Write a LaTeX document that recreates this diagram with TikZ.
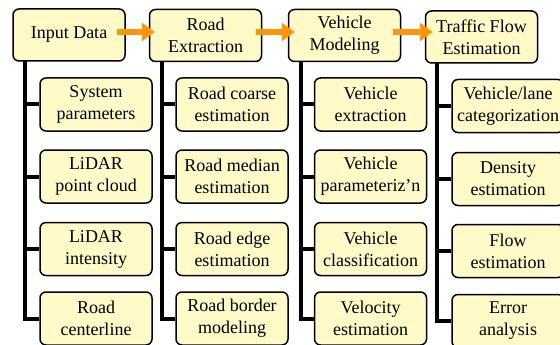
\documentclass[tikz,border=0pt]{standalone}
\usepackage{fontspec}
\setmainfont{Liberation Serif}
\usetikzlibrary{arrows.meta}
\definecolor{boxfill}{RGB}{255,250,200}
\definecolor{flowor}{RGB}{255,150,10}
\begin{document}
\begin{tikzpicture}[x=1pt,y=-1pt,
  stagebox/.style={draw=black, line width=1.5pt, rounded corners=6pt, fill=boxfill,
    minimum width=112pt, minimum height=52pt, align=center, inner sep=0pt,
    font=\fontsize{18}{22}\selectfont},
  taskbox/.style={stagebox, minimum height=53pt},
  trunk/.style={line width=4pt},
  flow/.style={draw=flowor, line width=6pt, -{Triangle[length=13pt,width=18pt]}}]
\useasboundingbox (0,0) rectangle (560,345);
\begin{scope}
\clip (0,0) rectangle (560,345);
% main stages
\node[stagebox] (in) at (69,35) {Input Data};
\node[stagebox] (re) at (205.5,35.5) {Road\\Extraction};
\node[stagebox] (vm) at (344.5,35.5) {Vehicle\\Modeling};
\node[stagebox] (tf) at (481.5,37) {Traffic Flow\\Estimation};
% trunk anchors
\coordinate (t1) at (25,61);
\coordinate (t2) at (162,62);
\coordinate (t3) at (301,62);
\coordinate (t4) at (437,63);
% sub tasks, column 1
\node[taskbox] (a1) at (96,104.5) {System\\parameters};
\node[taskbox] (a2) at (96,176.5) {LiDAR\\point cloud};
\node[taskbox] (a3) at (96,249) {LiDAR\\intensity};
\node[taskbox] (a4) at (96,318.5) {Road\\centerline};
% column 2
\node[taskbox] (b1) at (232,104.5) {Road coarse\\estimation};
\node[taskbox] (b2) at (232,176.5) {Road median\\estimation};
\node[taskbox] (b3) at (232,249) {Road edge\\estimation};
\node[taskbox] (b4) at (232,318.5) {Road border\\modeling};
% column 3
\node[taskbox] (c1) at (370.5,104.5) {Vehicle\\extraction};
\node[taskbox] (c2) at (370.5,176.5) {Vehicle\\parameteriz'n};
\node[taskbox] (c3) at (370.5,249) {Vehicle\\classification};
\node[taskbox] (c4) at (370.5,318.5) {Velocity\\estimation};
% column 4
\node[taskbox] (d1) at (508,106) {Vehicle/lane\\categorization};
\node[taskbox] (d2) at (508,179) {Density\\estimation};
\node[taskbox] (d3) at (508,251) {Flow\\estimation};
\node[taskbox] (d4) at (508,321) {Error\\analysis};
% tree connectors
\draw[trunk] (t1) -- (t1 |- a4.west) -- (a4.west);
\foreach \n in {a1,a2,a3} \draw[trunk] (t1 |- \n.west) -- (\n.west);
\draw[trunk] (t2) -- (t2 |- b4.west) -- (b4.west);
\foreach \n in {b1,b2,b3} \draw[trunk] (t2 |- \n.west) -- (\n.west);
\draw[trunk] (t3) -- (t3 |- c4.west) -- (c4.west);
\foreach \n in {c1,c2,c3} \draw[trunk] (t3 |- \n.west) -- (\n.west);
\draw[trunk] (t4) -- (t4 |- d4.west) -- (d4.west);
\foreach \n in {d1,d2,d3} \draw[trunk] (t4 |- \n.west) -- (\n.west);
% flow arrows between stages
\draw[flow] ([shift={(-9,-3)}]in.east) -- ([shift={(6,-3.5)}]re.west);
\draw[flow] ([shift={(-6,-3.5)}]re.east) -- ([shift={(7,-3.5)}]vm.west);
\draw[flow] ([shift={(-8,-3.5)}]vm.east) -- ([shift={(8,-5)}]tf.west);
\end{scope}
\end{tikzpicture}
\end{document}
